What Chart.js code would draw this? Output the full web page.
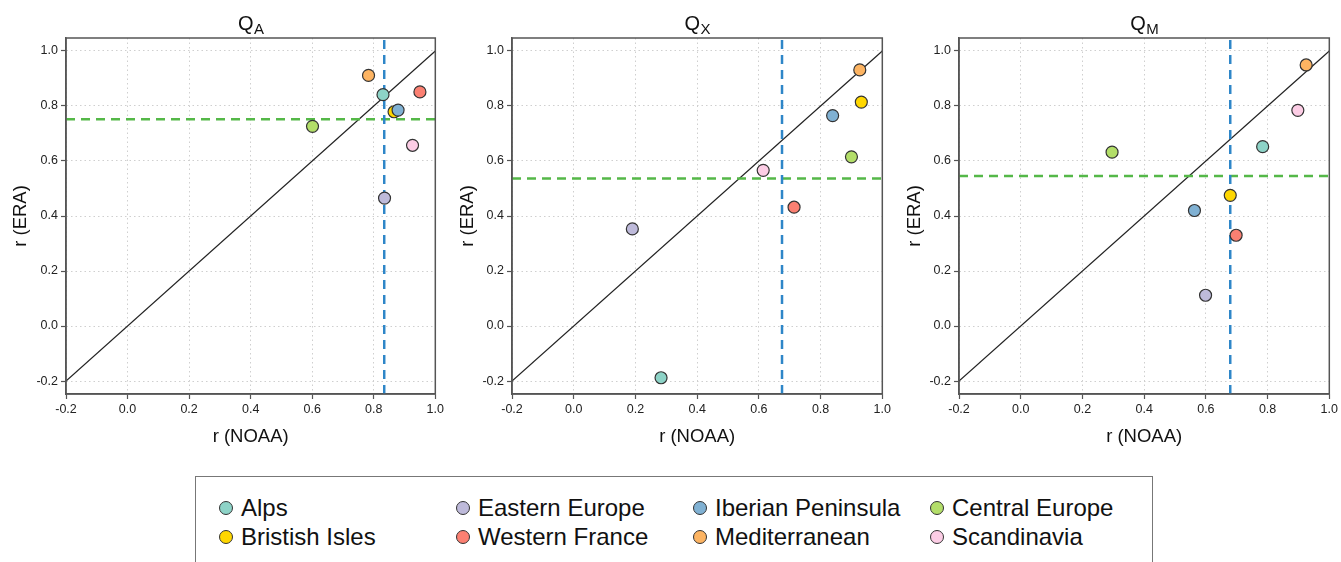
<!DOCTYPE html>
<html>
<head>
<meta charset="utf-8">
<script src="https://cdn.jsdelivr.net/npm/chart.js@4"></script>
<style>
  body { margin: 0; background: #fff; width: 1341px; height: 562px; overflow: hidden; position: relative; font-family: "Liberation Sans", Arial, sans-serif; }
  canvas { position: absolute; top: 0; }
  #legend { position: absolute; left: 195px; top: 476px; width: 958px; height: 100px; border: 1.5px solid #777; box-sizing: border-box; }
  .item { position: absolute; font-size: 24px; color: #111; line-height: 26px; white-space: nowrap; }
  .dot { position: absolute; left: -22px; top: 6px; width: 12px; height: 12px; border-radius: 50%; border: 1.2px solid #333; }
</style>
</head>
<body>
<canvas id="c1" width="447" height="460" style="left:0px"></canvas>
<canvas id="c2" width="447" height="460" style="left:447px"></canvas>
<canvas id="c3" width="447" height="460" style="left:894px"></canvas>
<div id="legend"></div>

<script>
// regions and colours
const regions = ["Alps", "Bristish Isles", "Eastern Europe", "Western France",
                 "Iberian Peninsula", "Mediterranean", "Central Europe", "Scandinavia"];
const colors = ["#8DD3C7", "#FFD700", "#BEBADA", "#FB8072",
                "#80B1D3", "#FDB462", "#B3DE69", "#FCCDE5"];

// Q_A
const xQA = [0.830, 0.866, 0.835, 0.950, 0.879, 0.783, 0.601, 0.926];
const yQA = [0.841, 0.779, 0.465, 0.851, 0.785, 0.911, 0.726, 0.657];
// Q_X
const xQX = [0.283, 0.932, 0.190, 0.714, 0.839, 0.927, 0.900, 0.614];
const yQX = [-0.188, 0.814, 0.353, 0.432, 0.765, 0.931, 0.615, 0.566];
// Q_M
const xQM = [0.784, 0.679, 0.599, 0.698, 0.563, 0.925, 0.296, 0.898];
const yQM = [0.652, 0.475, 0.112, 0.330, 0.420, 0.949, 0.632, 0.784];

// mean lines (vertical NOAA, horizontal ERA)
const vLines = [0.834, 0.675, 0.679];
const hLines = [0.752, 0.536, 0.545];

const ticks = [-0.2, 0, 0.2, 0.4, 0.6, 0.8, 1.0];
const xMin = -0.2, xMax = 1.0;
const yMin = -0.247, yMax = 1.047;
const diag = [-0.2, 1.0];

const titleSubs = ["A", "X", "M"];

// frame + subscript title
const framePlugin = {
    id: "frame",
    afterDraw(chart) {
        const { ctx, chartArea: a } = chart;
        ctx.save();
        ctx.strokeStyle = "#555";
        ctx.lineWidth = 1.5;
        ctx.strokeRect(a.left, a.top, a.right - a.left, a.bottom - a.top);

        const sub = chart.options.plugins.frame.sub;
        ctx.fillStyle = "#111";
        ctx.textBaseline = "alphabetic";
        ctx.font = "20px 'Liberation Sans', Arial";
        const w1 = ctx.measureText("Q").width;
        ctx.font = "15px 'Liberation Sans', Arial";
        const w2 = ctx.measureText(sub).width;
        const cx = (a.left + a.right) / 2;
        const x0 = cx - (w1 + w2) / 2;
        ctx.font = "20px 'Liberation Sans', Arial";
        ctx.fillText("Q", x0, 30);
        ctx.font = "15px 'Liberation Sans', Arial";
        ctx.fillText(sub, x0 + w1 + 0.5, 34);
        ctx.restore();
    }
};

function makeChart(id, xs, ys, vx, hy, sub, yAxisW) {
    const pts = xs.map((x, i) => ({ x: x, y: ys[i] }));
    const ctx = document.getElementById(id).getContext("2d");

    return new Chart(ctx, {
        type: "scatter",
        data: {
            datasets: [
                {
                    data: pts,
                    pointRadius: 6,
                    pointHoverRadius: 6,
                    pointBackgroundColor: colors,
                    pointBorderColor: "#333",
                    pointBorderWidth: 1.2,
                    order: 0
                },
                {
                    type: "line",
                    data: diag.map(v => ({ x: v, y: v })),
                    borderColor: "#222",
                    borderWidth: 1.2,
                    pointRadius: 0,
                    order: 3
                },
                {
                    type: "line",
                    data: [{ x: vx, y: yMin }, { x: vx, y: yMax }],
                    borderColor: "#2E86C8",
                    borderWidth: 2.5,
                    borderDash: [9, 6],
                    pointRadius: 0,
                    order: 2
                },
                {
                    type: "line",
                    data: [{ x: xMin, y: hy }, { x: xMax, y: hy }],
                    borderColor: "#55B848",
                    borderWidth: 2.5,
                    borderDash: [9, 6],
                    pointRadius: 0,
                    order: 2
                }
            ]
        },
        options: {
            responsive: false,
            animation: false,
            layout: { padding: { top: 38, right: 10, left: 0, bottom: 0 } },
            plugins: {
                legend: { display: false },
                tooltip: { enabled: false },
                frame: { sub: sub }
            },
            scales: {
                x: {
                    type: "linear",
                    min: xMin,
                    max: xMax,
                    afterBuildTicks: s => { s.ticks = ticks.map(v => ({ value: v })); },
                    afterFit: s => { s.height = 66; },
                    ticks: {
                        color: "#222",
                        font: { size: 12.5, family: "'Liberation Sans', Arial" },
                        padding: 3,
                        maxRotation: 0,
                        callback: v => v.toFixed(1)
                    },
                    grid: { color: "#cfcfcf", tickColor: "#555", tickLength: 5, tickWidth: 1.2 },
                    border: { color: "#555", width: 1.5, dash: [1.5, 3] },
                    title: {
                        display: true,
                        text: "r (NOAA)",
                        color: "#111",
                        font: { size: 18.5, family: "'Liberation Sans', Arial" },
                        padding: { top: 0, bottom: 12 }
                    }
                },
                y: {
                    type: "linear",
                    min: yMin,
                    max: yMax,
                    afterBuildTicks: s => { s.ticks = ticks.map(v => ({ value: v })); },
                    afterFit: s => { s.width = yAxisW; },
                    ticks: {
                        color: "#222",
                        font: { size: 12.5, family: "'Liberation Sans', Arial" },
                        padding: 3,
                        callback: v => v.toFixed(1)
                    },
                    grid: { color: "#cfcfcf", tickColor: "#555", tickLength: 5, tickWidth: 1.2 },
                    border: { color: "#555", width: 1.5, dash: [1.5, 3] },
                    title: {
                        display: true,
                        text: "r (ERA)",
                        color: "#111",
                        font: { size: 18.5, family: "'Liberation Sans', Arial" },
                        padding: { top: 10, bottom: 0 }
                    }
                }
            }
        },
        plugins: [framePlugin]
    });
}

makeChart("c1", xQA, yQA, vLines[0], hLines[0], titleSubs[0], 66);
makeChart("c2", xQX, yQX, vLines[1], hLines[1], titleSubs[1], 65);
makeChart("c3", xQM, yQM, vLines[2], hLines[2], titleSubs[2], 65);

// Legend
const legend = document.getElementById("legend");
const colX = [45, 282, 519, 756];
const rowY = [18, 47];
// filled column by column, two rows each
regions.forEach((name, i) => {
    const col = Math.floor(i / 2);
    const row = i % 2;
    const el = document.createElement("div");
    el.className = "item";
    el.style.left = colX[col] + "px";
    el.style.top = rowY[row] + "px";
    el.innerHTML = `<span class="dot" style="background:${colors[i]}"></span>${name}`;
    legend.appendChild(el);
});
</script>
</body>
</html>
